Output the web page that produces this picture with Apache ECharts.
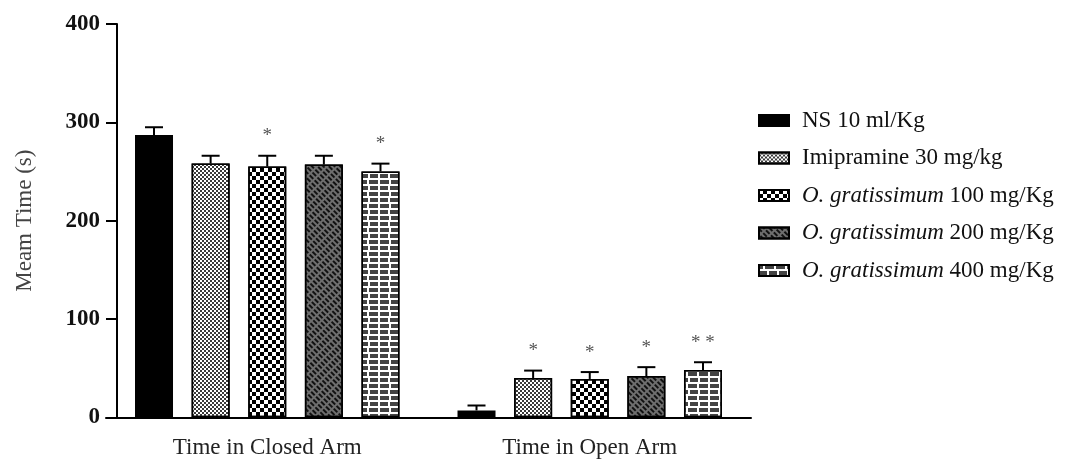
<!DOCTYPE html>
<html>
<head>
<meta charset="utf-8">
<script src="https://cdn.jsdelivr.net/npm/echarts@6/dist/echarts.min.js"></script>
<style>html,body{margin:0;padding:0;background:#fff}#c{width:1077px;height:462px}</style>
</head>
<body>
<div id="c"></div>
<script>
const categories = ['Time in Closed Arm', 'Time in Open Arm'];
const seriesNames = ['NS 10 ml/Kg', 'Imipramine 30 mg/kg', 'O. gratissimum 100 mg/Kg', 'O. gratissimum 200 mg/Kg', 'O. gratissimum 400 mg/Kg'];
const ns10 = [287, 7];
const imipramine30 = [258, 40];
const og100 = [255, 39];
const og200 = [257, 42];
const og400 = [250, 48];
const errNs10 = [8, 5];
const errImipramine30 = [8, 7.5];
const errOg100 = [11, 7];
const errOg200 = [9, 9];
const errOg400 = [8, 8];
const sigNs10 = ['', ''];
const sigImipramine30 = ['', '*'];
const sigOg100 = ['*', '*'];
const sigOg200 = ['', '*'];
const sigOg400 = ['*', '* *'];
const yTicks = [0, 100, 200, 300, 400];

const values = [ns10, imipramine30, og100, og200, og400];
const errs = [errNs10, errImipramine30, errOg100, errOg200, errOg400];
const sigs = [sigNs10, sigImipramine30, sigOg100, sigOg200, sigOg400];

const FONT = '"Liberation Serif", "Times New Roman", serif';
const BAR_W = 38;
const BAR_GAP = 0.49;
const PITCH = BAR_W * (1 + BAR_GAP);

const styles = [
  { color: '#000', borderColor: '#000', borderWidth: 1.5 },
  { color: '#fff', borderColor: '#000', borderWidth: 1.5,
    decal: { symbol: 'rect', symbolSize: 1, symbolKeepAspect: false, color: '#3a3a3a',
      dashArrayX: [[2, 2], [0, 2, 2, 0]], dashArrayY: [2, 0], rotation: 0 } },
  { color: '#fff', borderColor: '#000', borderWidth: 1.5,
    decal: { symbol: 'rect', symbolSize: 1, symbolKeepAspect: false, color: '#000',
      dashArrayX: [[4, 4], [0, 4, 4, 0]], dashArrayY: [4, 0], rotation: 0 } },
  { color: '#6e6e6e', borderColor: '#000', borderWidth: 1.5,
    decal: { symbol: 'rect', symbolSize: 1, symbolKeepAspect: false, color: '#111',
      dashArrayX: [5, 2], dashArrayY: [2, 2], rotation: Math.PI / 4 } },
  { color: '#fff', borderColor: '#000', borderWidth: 1.5,
    decal: { symbol: 'rect', symbolSize: 1, symbolKeepAspect: false, color: '#444',
      dashArrayX: [[8, 1.5], [3.5, 1.5, 4.5, 0]], dashArrayY: [3.5, 1.5], rotation: 0 } }
];

const series = [];
seriesNames.forEach((name, i) => {
  series.push({
    name: name, type: 'bar', barWidth: BAR_W, barGap: (BAR_GAP * 100) + '%',
    data: values[i], itemStyle: styles[i], z: 2
  });
});
seriesNames.forEach((name, i) => {
  series.push({
    name: 'err' + i, type: 'custom', z: 3,
    data: values[i].map((v, j) => [j, v, errs[i][j]]),
    encode: { x: 0, y: 1 },
    renderItem: function (params, api) {
      const j = api.value(0);
      const base = api.coord([j, api.value(1)]);
      const top = api.coord([j, api.value(1) + api.value(2)]);
      const x = base[0] + (i - 2) * PITCH;
      const children = [
        { type: 'line', shape: { x1: x, y1: base[1], x2: x, y2: top[1] }, style: { stroke: '#000', lineWidth: 2 } },
        { type: 'line', shape: { x1: x - 9, y1: top[1], x2: x + 9, y2: top[1] }, style: { stroke: '#000', lineWidth: 2 } }
      ];
      const s = sigs[i][j];
      if (s) {
        children.push({ type: 'text', x: x, y: top[1] - 10,
          style: { text: s, fill: '#555', font: '19px ' + FONT, align: 'center', verticalAlign: 'bottom' } });
      }
      return { type: 'group', children: children };
    }
  });
});

const chart = echarts.init(document.getElementById('c'));
chart.setOption({
  animation: false,
  backgroundColor: '#fff',
  grid: { left: 106, width: 645, top: 24, bottom: 44.7, containLabel: false },
  legend: {
    data: seriesNames, orient: 'vertical', left: 753, top: 104,
    icon: 'rect', itemWidth: 30, itemHeight: 11, itemGap: 14.5,
    textStyle: { fontFamily: FONT, fontSize: 23, color: '#111', padding: [0, 0, 0, 8],
      rich: { i: { fontFamily: FONT, fontSize: 23, fontStyle: 'italic', color: '#111' } } },
    formatter: function (name) {
      const p = 'O. gratissimum';
      if (name.indexOf(p) === 0) return '{i|' + p + '}' + name.slice(p.length);
      return name;
    }
  },
  xAxis: {
    type: 'category', data: categories,
    axisLine: { lineStyle: { color: '#000', width: 2 } },
    axisTick: { show: false },
    axisLabel: { fontFamily: FONT, fontSize: 23, color: '#222', margin: 19 }
  },
  yAxis: {
    type: 'value', min: yTicks[0], max: yTicks[yTicks.length - 1], interval: 100, offset: -11,
    name: 'Meam Time (s)', nameLocation: 'middle', nameGap: 81,
    nameTextStyle: { fontFamily: FONT, fontSize: 23, color: '#444' },
    axisLine: { show: true, lineStyle: { color: '#000', width: 2 } },
    axisTick: { show: true, length: 11, lineStyle: { color: '#000', width: 2 } },
    splitLine: { show: false },
    axisLabel: { fontFamily: FONT, fontSize: 23, fontWeight: 'bold', color: '#111', margin: 17 }
  },
  series: series
});
</script>
</body>
</html>
